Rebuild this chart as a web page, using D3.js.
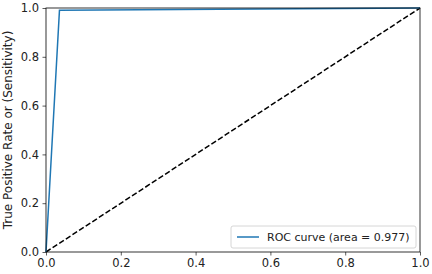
<!DOCTYPE html>
<html>
<head>
<meta charset="utf-8">
<script src="https://cdn.jsdelivr.net/npm/d3@7"></script>
<style>
  body { margin: 0; background: #fff; }
  svg { font-family: "DejaVu Sans", sans-serif; }
</style>
</head>
<body>
<svg width="432" height="274"></svg>
<script>
// ROC curve points
const fpr = [0, 0.036, 1];
const tpr = [0, 0.991, 1];
const chanceX = [0, 1];
const chanceY = [0, 1];
const ticks = [0, 0.2, 0.4, 0.6, 0.8, 1.0];
const legendLabel = "ROC curve (area = 0.977)";

const svg = d3.select("svg");
const margin = { top: 8, right: 12, bottom: 22, left: 46 };
const width = +svg.attr("width") - margin.left - margin.right;
const height = +svg.attr("height") - margin.top - margin.bottom;

const g = svg.append("g")
  .attr("transform", "translate(" + margin.left + "," + margin.top + ")");

const x = d3.scaleLinear().domain([0, 1]).range([0, width]);
const y = d3.scaleLinear().domain([0, 1]).range([height, 0]);

// chance line
const line = d3.line().x(d => x(d[0])).y(d => y(d[1]));
g.append("path")
  .datum(d3.zip(chanceX, chanceY))
  .attr("fill", "none")
  .attr("stroke", "#000")
  .attr("stroke-width", 1.5)
  .attr("stroke-dasharray", "5.5,2.4")
  .attr("d", line);

// roc curve
g.append("path")
  .datum(d3.zip(fpr, tpr))
  .attr("fill", "none")
  .attr("stroke", "#1f77b4")
  .attr("stroke-width", 1.5)
  .attr("d", line);

// axes
const xAxis = g.append("g")
  .attr("transform", "translate(0," + height + ")")
  .call(d3.axisBottom(x).tickValues(ticks).tickFormat(d3.format(".1f")).tickSizeOuter(0).tickSize(3.5).tickPadding(3.5));
const yAxis = g.append("g")
  .call(d3.axisLeft(y).tickValues(ticks).tickFormat(d3.format(".1f")).tickSizeOuter(0).tickSize(3.5).tickPadding(3.5));

[xAxis, yAxis].forEach(a => {
  a.select(".domain").remove();
  a.selectAll("line").attr("stroke", "#333").attr("stroke-width", 0.8);
  a.selectAll("text").attr("font-size", 11.5).attr("fill", "#222")
    .attr("font-family", "DejaVu Sans, sans-serif");
});

// frame
g.append("rect")
  .attr("width", width).attr("height", height)
  .attr("fill", "none").attr("stroke", "#000").attr("stroke-width", 0.8);

// y label
svg.append("text")
  .attr("transform", "translate(12," + (margin.top + height / 2) + ") rotate(-90)")
  .attr("text-anchor", "middle")
  .attr("font-size", 12)
  .attr("fill", "#222")
  .text("True Positive Rate or (Sensitivity)");

// legend
const lg = g.append("g").attr("transform", "translate(" + (width - 189) + "," + (height - 26) + ")");
lg.append("rect")
  .attr("width", 185).attr("height", 22).attr("rx", 2)
  .attr("fill", "#fff").attr("fill-opacity", 0.8)
  .attr("stroke", "#ccc").attr("stroke-width", 0.8);
lg.append("line")
  .attr("x1", 6).attr("x2", 28).attr("y1", 11).attr("y2", 11)
  .attr("stroke", "#1f77b4").attr("stroke-width", 1.5);
lg.append("text")
  .attr("x", 36).attr("y", 15)
  .attr("font-size", 11).attr("fill", "#222")
  .text(legendLabel);
</script>
</body>
</html>
